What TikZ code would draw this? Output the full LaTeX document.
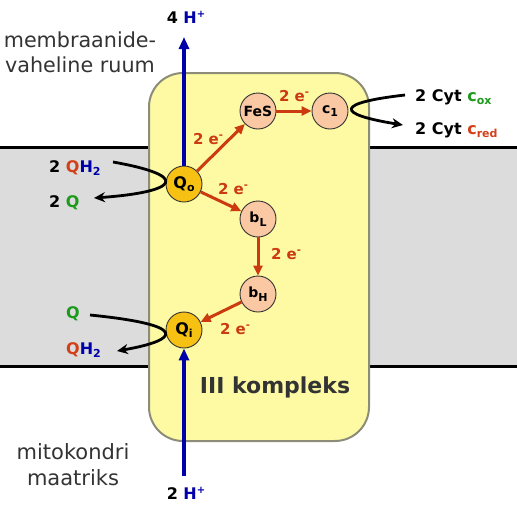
\documentclass[tikz,border=0pt]{standalone}
\usepackage{fontspec}
\setmainfont{DejaVu Sans}
\usetikzlibrary{arrows.meta}
\definecolor{memgray}{HTML}{DCDCDC}
\definecolor{boxyellow}{HTML}{FDFAA3}
\definecolor{boxborder}{HTML}{8C8C78}
\definecolor{eorange}{HTML}{CC3A10}
\definecolor{hblue}{HTML}{0000AA}
\definecolor{qred}{HTML}{D2401A}
\definecolor{qgreen}{HTML}{1C9A1C}
\definecolor{goldq}{HTML}{F7C113}
\definecolor{peach}{HTML}{FAC8A2}
\definecolor{txtgray}{HTML}{333333}
\newcommand{\lowr}[1]{\raisebox{-3.5pt}{\fontsize{11}{11}\selectfont #1}}
\newcommand{\highr}[1]{\raisebox{6pt}{\fontsize{10}{10}\selectfont #1}}
\newcommand{\bigtxt}{\fontsize{20.7}{24}\selectfont}
\newcommand{\lbl}{\fontsize{16}{19}\selectfont\bfseries}
\begin{document}
\begin{tikzpicture}[x=1pt,y=-1pt,
  qsite/.style={circle,draw=black!80,line width=0.9pt,fill=goldq,minimum size=36pt,inner sep=0pt,font=\fontsize{16}{16}\selectfont\bfseries},
  cofactor/.style={circle,draw=black!80,line width=0.9pt,fill=peach,minimum size=36pt,inner sep=0pt,font=\fontsize{14}{14}\selectfont\bfseries},
  earrow/.style={draw=eorange,line width=3pt,-{Triangle[length=10pt,width=9pt]}},
  elabel/.style={text=eorange,font=\fontsize{15}{15}\selectfont\bfseries,inner sep=0pt},
  hline/.style={draw=hblue,line width=3.5pt},
  qarrow/.style={draw=black,line width=2.8pt,-{Stealth[length=11pt,width=10pt]}},
  plain/.style={inner sep=0pt,font=\lbl}
]
\useasboundingbox (0,0) rectangle (517,512);
% membrane
\fill[memgray] (0,147) rectangle (517,366);
\draw[line width=3pt] (0,147) -- (517,147);
\draw[line width=3pt] (0,366) -- (517,366);
% complex box
\draw[rounded corners=34pt,fill=boxyellow,draw=boxborder,line width=2pt] (149,73) rectangle (369,441);
\node[text=txtgray,inner sep=0pt,anchor=base,font=\fontsize{22}{22}\selectfont\bfseries] (title) at (275,393) {III kompleks};
% region labels
\node[text=txtgray,inner sep=0pt,anchor=base,font=\bigtxt] (ims1) at (80,47) {membraanide-};
\node[text=txtgray,inner sep=0pt,anchor=base,font=\bigtxt] (ims2) at (80,72) {vaheline ruum};
\node[text=txtgray,inner sep=0pt,anchor=base,font=\fontsize{21}{24}\selectfont] (mat1) at (73,459) {mitokondri};
\node[text=txtgray,inner sep=0pt,anchor=base,font=\fontsize{21}{24}\selectfont] (mat2) at (73,485) {maatriks};
% sites
\node[qsite] (qo) at (184,184) {Q\lowr{o}};
\node[qsite] (qi) at (184,330) {Q\lowr{i}};
\node[cofactor] (fes) at (258,111) {FeS};
\node[cofactor] (c1) at (330,111) {c\lowr{1}};
\node[cofactor] (bl) at (258,219) {b\lowr{L}};
\node[cofactor] (bh) at (258,294) {b\lowr{H}};
% electron arrows
\draw[earrow] (qo) -- (fes);
\draw[earrow] (fes) -- (c1);
\draw[earrow] (qo) -- (bl);
\draw[earrow] (bl) -- (bh);
\draw[earrow] (bh) -- (qi);
\node[elabel] (e1) at (208,139) {2 e\highr{-}};
\node[elabel] (e2) at (294,96) {2 e\highr{-}};
\node[elabel] (e3) at (233,189) {2 e\highr{-}};
\node[elabel] (e4) at (286,254) {2 e\highr{-}};
\node[elabel] (e5) at (235,329) {2 e\highr{-}};
% protons
\coordinate (hout) at (184,37);
\coordinate (hin) at (184,476);
\draw[hline,-{Triangle[length=12pt,width=10pt]}] (qo.north) -- (hout);
\draw[hline,-{Triangle[length=12pt,width=10pt]}] (hin) -- (qi.south);
\node[plain,anchor=base] (h4) at (186,23) {4 \textcolor{hblue}{H\highr{+}}};
\node[plain,anchor=base] (h2) at (186,499) {2 \textcolor{hblue}{H\highr{+}}};
% quinone labels
\node[plain,anchor=base west] (qh2a) at (49,172) {2 \textcolor{qred}{Q}\textcolor{hblue}{H\lowr{2}}};
\node[plain,anchor=base west] (qa) at (49,207) {2 \textcolor{qgreen}{Q}};
\node[plain,anchor=base west] (qb) at (66,318) {\textcolor{qgreen}{Q}};
\node[plain,anchor=base west] (qh2b) at (66,354) {\textcolor{qred}{Q}\textcolor{hblue}{H\lowr{2}}};
\coordinate (s1) at (113,162);
\coordinate (t1) at (94,198);
\draw[qarrow] (s1) .. controls (192,176) and (178,192) .. (t1);
\coordinate (s2) at (90,315);
\coordinate (t2) at (117,351);
\draw[qarrow] (s2) .. controls (190,325) and (180,340) .. (t2);
% cytochrome c
\node[plain,anchor=base west] (cox) at (415,101) {2 Cyt \textcolor{qgreen}{c\lowr{ox}}};
\node[plain,anchor=base west] (cred) at (415,134) {2 Cyt \textcolor{qred}{c\lowr{red}}};
\coordinate (s3) at (405,95);
\coordinate (t3) at (403,125);
\draw[qarrow] (s3) .. controls (335,103) and (335,114) .. (t3);
\end{tikzpicture}
\end{document}
